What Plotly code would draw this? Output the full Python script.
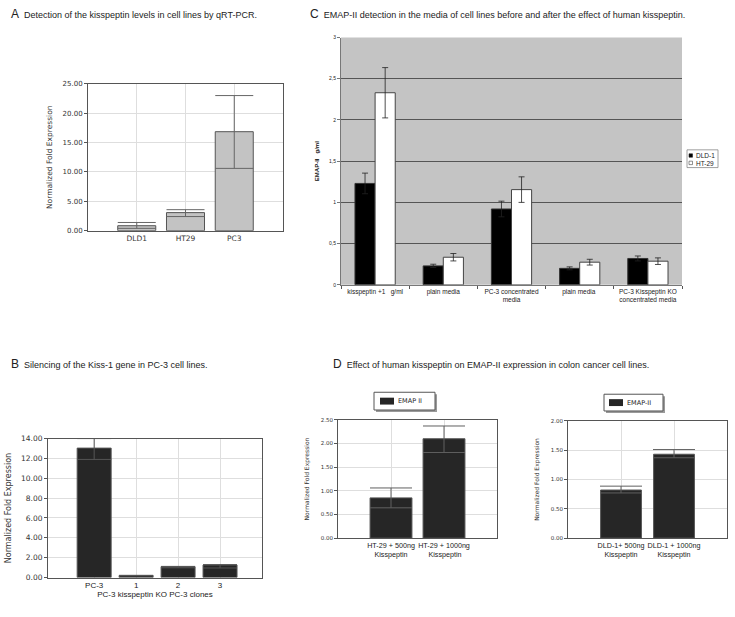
import plotly.graph_objects as go

W, H = 735, 617

# ---------------- data ----------------
# Panel A
a_cats = ["DLD1", "HT29", "PC3"]
a_vals = [0.84, 3.07, 16.85]
a_upper = [1.39, 3.57, 23.0]
a_lower = [0.39, 2.40, 10.6]

# Panel B
b_cats = ["PC-3", "1", "2", "3"]
b_vals = [13.04, 0.20, 1.09, 1.26]
b_upper = [14.0, 0.22, 1.12, 1.30]
b_lower = [11.9, 0.17, 0.98, 0.96]

# Panel C
c_cats = ["kisspeptin +1   g/ml", "plain media", "PC-3 concentrated<br>media",
          "plain media ", "PC-3 Kisspeptin KO<br>concentrated media"]
c_dld = [1.23, 0.23, 0.92, 0.20, 0.32]
c_dld_err = [0.125, 0.02, 0.095, 0.018, 0.03]
c_ht = [2.33, 0.335, 1.155, 0.275, 0.287]
c_ht_err = [0.305, 0.045, 0.155, 0.035, 0.04]
c_ticks = [0, 0.5, 1, 1.5, 2, 2.5, 3]
c_ticktext = ["0", "0,5", "1", "1,5", "2", "2,5", "3"]
c_series = ["DLD-1", "HT-29"]

# Panel D (left: HT-29, right: DLD-1)
d1_cats = ["HT-29 + 500ng<br>Kisspeptin", "HT-29 + 1000ng<br> Kisspeptin"]
d1_vals = [0.85, 2.10]
d1_upper = [1.06, 2.37]
d1_lower = [0.64, 1.81]
d2_cats = ["DLD-1+ 500ng<br>Kisspeptin", "DLD-1 + 1000ng<br>Kisspeptin"]
d2_vals = [0.82, 1.43]
d2_upper = [0.886, 1.51]
d2_lower = [0.77, 1.37]
d1_name = "EMAP II"
d2_name = "EMAP-II"


def xd(l, r):
    return [l / W, r / W]


def yd(t, b):
    return [1 - b / H, 1 - t / H]


def px(x):
    return x / W


def py(y):
    return 1 - y / H


def errs(vals, up, lo):
    return ([u - v for u, v in zip(up, vals)], [v - l for v, l in zip(vals, lo)])


TICKFONT = dict(family="DejaVu Sans", size=7, color="#333")
DARK = "#262626"
fig = go.Figure()

# A
ep, em = errs(a_vals, a_upper, a_lower)
fig.add_trace(go.Bar(x=a_cats, y=a_vals, width=0.78, xaxis="x", yaxis="y",
                     marker=dict(color="#c3c3c3", line=dict(color="#555", width=1)),
                     error_y=dict(type="data", symmetric=False, array=ep, arrayminus=em,
                                  color="#666", thickness=1, width=19)))
# B
ep, em = errs(b_vals, b_upper, b_lower)
fig.add_trace(go.Bar(x=b_cats, y=b_vals, width=0.81, xaxis="x3", yaxis="y3",
                     marker=dict(color=DARK, line=dict(color="#555", width=1)),
                     error_y=dict(type="data", symmetric=False, array=ep, arrayminus=em,
                                  color="#555", thickness=1, width=17)))
# C
fig.add_trace(go.Bar(x=c_cats, y=c_dld, name=c_series[0], xaxis="x2", yaxis="y2",
                     marker=dict(color="black", line=dict(color="#333", width=1)),
                     error_y=dict(type="data", array=c_dld_err, color="#222",
                                  thickness=0.8, width=3)))
fig.add_trace(go.Bar(x=c_cats, y=c_ht, name=c_series[1], xaxis="x2", yaxis="y2",
                     marker=dict(color="white", line=dict(color="#444", width=1)),
                     error_y=dict(type="data", array=c_ht_err, color="#222",
                                  thickness=0.8, width=3)))
# D1
ep, em = errs(d1_vals, d1_upper, d1_lower)
fig.add_trace(go.Bar(x=d1_cats, y=d1_vals, width=0.79, name=d1_name,
                     xaxis="x4", yaxis="y4",
                     marker=dict(color=DARK, line=dict(color="#555", width=1)),
                     error_y=dict(type="data", symmetric=False, array=ep, arrayminus=em,
                                  color="#606060", thickness=1, width=21)))
# D2
ep, em = errs(d2_vals, d2_upper, d2_lower)
fig.add_trace(go.Bar(x=d2_cats, y=d2_vals, width=0.77, name=d2_name,
                     xaxis="x5", yaxis="y5",
                     marker=dict(color=DARK, line=dict(color="#555", width=1)),
                     error_y=dict(type="data", symmetric=False, array=ep, arrayminus=em,
                                  color="#606060", thickness=1, width=21)))

frame = dict(showline=True, linecolor="#555", linewidth=1, mirror=True,
             gridcolor="#dedede", gridwidth=1, zeroline=False)
XL = dict(family="Liberation Sans", size=8, color="#222")
DXL = dict(family="Liberation Sans", size=7.2, color="#222")

layout = dict(
    width=W, height=H, margin=dict(l=0, r=0, t=0, b=0),
    paper_bgcolor="white", plot_bgcolor="white", showlegend=False,
    bargap=0.41, bargroupgap=0, barmode="group",
    font=dict(family="Liberation Sans", color="#222"),
    # A
    xaxis=dict(domain=xd(88, 283), anchor="y", range=[-1, 3], type="category",
               tickfont=dict(family="DejaVu Sans", size=7.5, color="#333"),
               showgrid=True, ticks="", tickangle=0, **frame),
    yaxis=dict(domain=yd(81, 230), anchor="x", range=[0, 25], tickvals=[0, 5, 10, 15, 20, 25],
               tickformat=".2f", tickfont=TICKFONT, ticks="outside", ticklen=3,
               tickcolor="#555",
               title=dict(text="Normalized Fold Expression", standoff=8,
                          font=dict(family="DejaVu Sans", size=7.5, color="#333")),
               **frame),
    # C
    xaxis2=dict(domain=xd(341, 682), anchor="y2", type="category", tickson="boundaries",
                ticks="outside", ticklen=3, tickcolor="#555", tickangle=0,
                showline=True, linecolor="#777", linewidth=1, showgrid=False,
                tickfont=dict(family="Liberation Sans", size=6.5, color="#222")),
    yaxis2=dict(domain=yd(34, 285), anchor="x2", range=[0, 3], tickvals=c_ticks,
                ticktext=c_ticktext, tickfont=dict(family="Liberation Sans", size=5, color="#222"),
                ticks="outside", ticklen=3, tickcolor="#777",
                showline=True, linecolor="#777", linewidth=1, zeroline=False,
                gridcolor="#555", gridwidth=1,
                title=dict(text="<b>EMAP-II   g/ml</b>", standoff=8,
                           font=dict(family="Liberation Sans", size=6, color="#111"))),
    # B
    xaxis3=dict(domain=xd(48, 262), anchor="y3", range=[-1.1, 4], type="category",
                tickfont=XL, showgrid=True, ticks="", tickangle=0,
                title=dict(text="PC-3 kisspeptin KO PC-3 clones", standoff=0, font=XL),
                **frame),
    yaxis3=dict(domain=yd(441, 582), anchor="x3", range=[0, 14],
                tickvals=[0, 2, 4, 6, 8, 10, 12, 14], tickformat=".2f",
                tickfont=dict(family="DejaVu Sans", size=7.5, color="#333"),
                ticks="outside", ticklen=3, tickcolor="#555",
                title=dict(text="Normalized Fold Expression", standoff=8,
                           font=dict(family="DejaVu Sans", size=8, color="#333")),
                **frame),
    # D1
    xaxis4=dict(domain=xd(338, 497), anchor="y4", range=[-1, 2], type="category",
                tickfont=DXL, showgrid=True, ticks="", tickangle=0, **frame),
    yaxis4=dict(domain=yd(422, 542), anchor="x4", range=[0, 2.5],
                tickvals=[0, 0.5, 1, 1.5, 2, 2.5], tickformat=".2f",
                tickfont=dict(family="DejaVu Sans", size=5.5, color="#333"),
                ticks="outside", ticklen=3, tickcolor="#555",
                title=dict(text="Normalized Fold Expression", standoff=10,
                           font=dict(family="DejaVu Sans", size=6, color="#333")),
                **frame),
    # D2
    xaxis5=dict(domain=xd(568, 727), anchor="y5", range=[-1, 2], type="category",
                tickfont=DXL, showgrid=True, ticks="", tickangle=0, **frame),
    yaxis5=dict(domain=yd(423, 542), anchor="x5", range=[0, 2.0],
                tickvals=[0, 0.5, 1, 1.5, 2], tickformat=".2f",
                tickfont=dict(family="DejaVu Sans", size=5.5, color="#333"),
                ticks="outside", ticklen=3, tickcolor="#555",
                title=dict(text="Normalized Fold Expression", standoff=10,
                           font=dict(family="DejaVu Sans", size=6, color="#333")),
                **frame),
)
fig.update_layout(**layout)

# grey plot background of panel C
fig.add_shape(type="rect", xref="x2 domain", yref="y2 domain", x0=0, x1=1, y0=0, y1=1,
              fillcolor="#c4c4c4", line=dict(width=0), layer="below")


def rect(x0, y0, x1, y1, fill, line="#555", lw=1):
    fig.add_shape(type="rect", xref="paper", yref="paper",
                  x0=px(x0), x1=px(x1), y0=py(y1), y1=py(y0),
                  fillcolor=fill, line=dict(color=line, width=lw), layer="above")


def label(x, y, text, font):
    fig.add_annotation(x=px(x), y=py(y), xref="paper", yref="paper",
                       xanchor="left", yanchor="middle", showarrow=False,
                       text=text, font=font)


# legend of panel C
rect(687, 148, 718, 166, "white", "#888", 0.8)
rect(689, 152, 692.5, 155.5, "black", "#222", 0.6)
rect(689, 159.5, 692.5, 163, "white", "#444", 0.6)
LF = dict(family="Liberation Sans", size=6.5, color="#222")
label(693.5, 154, c_series[0], LF)
label(693.5, 161.5, c_series[1], LF)

# legends of panel D (with drop shadow)
DLF = dict(family="DejaVu Sans", size=6.5, color="#222")
rect(376, 396, 437, 414, "#9a9a9a", "#9a9a9a", 0)
rect(374, 394, 435, 412, "white", "#555", 1)
rect(380, 399.5, 394, 406.5, DARK, DARK, 0)
label(396, 403, d1_name, DLF)

rect(606, 398, 665, 415, "#9a9a9a", "#9a9a9a", 0)
rect(604, 396, 663, 413, "white", "#555", 1)
rect(609, 401, 623, 408, DARK, DARK, 0)
label(625, 404.5, d2_name, DLF)

TF = dict(family="Liberation Sans", size=9, color="#222")


def title(x, y, letter, text):
    fig.add_annotation(x=px(x), y=py(y), xref="paper", yref="paper",
                       xanchor="left", yanchor="middle", showarrow=False,
                       text=f"<span style='font-size:12px'>{letter}</span>  {text}", font=TF)


title(9, 10, "A", "Detection of the kisspeptin levels in cell lines by qRT-PCR.")
title(308, 10, "C", "EMAP-II detection in the media of cell lines before and after the effect of human kisspeptin.")
title(9, 365, "B", "Silencing of the Kiss-1 gene in PC-3 cell lines.")
title(331, 365, "D", "Effect of human kisspeptin on EMAP-II expression in colon cancer cell lines.")

fig.write_html("out.html", config={"displayModeBar": False},
               post_script="document.body.style.margin='0';document.body.style.overflow='hidden';")
